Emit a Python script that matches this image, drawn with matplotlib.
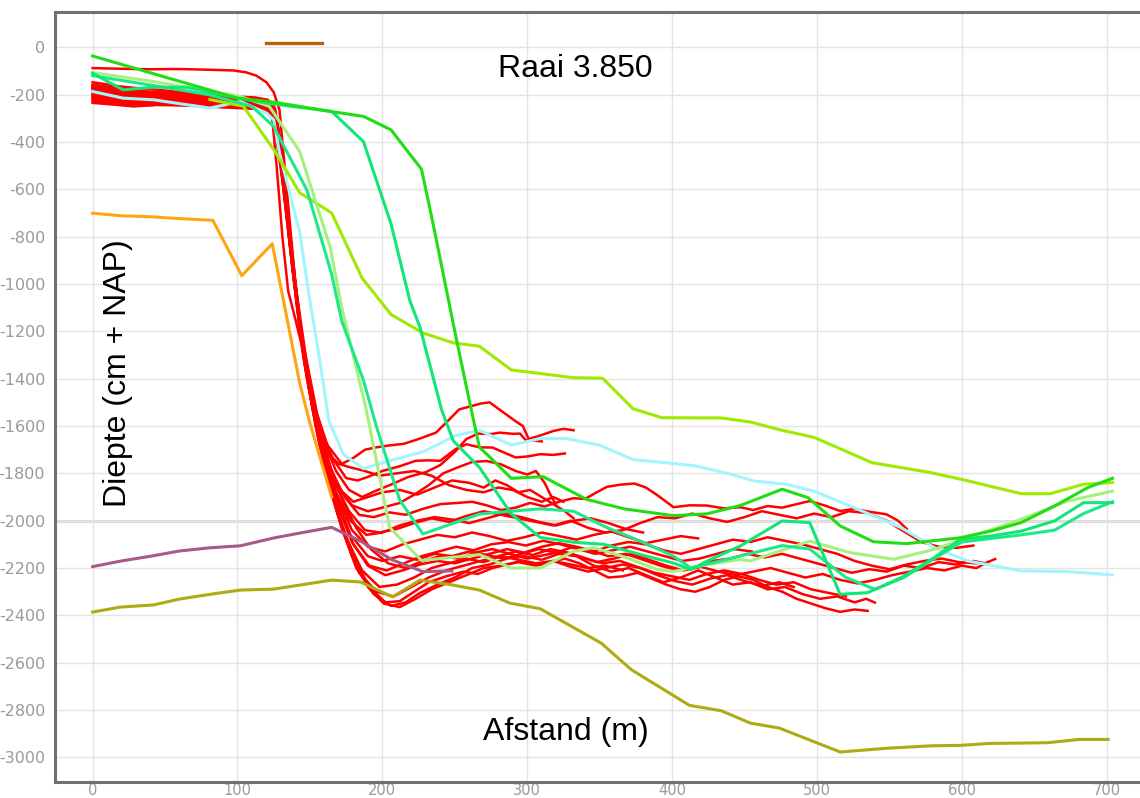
import matplotlib
matplotlib.use("Agg")
import matplotlib.pyplot as plt

# Raai 3.850 - dieptemetingen langs de raai
plt.rcParams['axes.unicode_minus'] = False

# oude lodingen (rood), per profiel (afstand m, diepte cm)
red_profiles = [
    [(0,-88),(20,-91),(40,-93),(60,-92),(80,-95),(97,-98),(106,-106),(113,-120),(120,-148),(125,-190),(129,-265),(134,-600),(140,-1000),(147,-1300),(155,-1550),(162,-1680),(172,-1760),(180,-1735),(188,-1700),(196,-1690),(205,-1682),(215,-1675),(225,-1655),(237,-1628),(245,-1580),(253,-1530),(262,-1515),(268,-1505),(274,-1500),(283,-1540),(292,-1580),(297,-1600),(301,-1655),(309,-1640),(318,-1621),(325,-1612),(332,-1618)],
    [(0,-148),(8,-155),(18,-165),(30,-172),(45,-180),(62,-190),(80,-200),(98,-208),(112,-212),(121,-222),(126,-260),(131,-480),(137,-850),(144,-1200),(151,-1460),(158,-1620),(166,-1740),(175,-1820),(183,-1830),(190,-1815),(200,-1790),(212,-1770),(223,-1747),(232,-1745),(240,-1747),(250,-1700),(258,-1677),(267,-1690),(276,-1691),(284,-1712),(292,-1733),(301,-1728),(309,-1719),(318,-1722),(326,-1716)],
    [(0,-158),(12,-168),(25,-182),(40,-188),(58,-196),(78,-203),(98,-212),(113,-222),(122,-235),(127,-300),(133,-620),(139,-980),(146,-1290),(153,-1520),(160,-1670),(168,-1790),(177,-1870),(186,-1900),(195,-1875),(205,-1850),(218,-1815),(230,-1795),(240,-1765),(250,-1710),(258,-1655),(266,-1632),(275,-1634),(281,-1628),(290,-1633),(295,-1632),(299,-1660),(305,-1662),(310,-1665)],
    [(0,-165),(14,-178),(28,-192),(44,-198),(64,-204),(84,-214),(104,-224),(117,-232),(124,-250),(129,-380),(135,-720),(141,-1080),(148,-1380),(155,-1600),(162,-1750),(170,-1860),(179,-1935),(190,-1960),(200,-1945),(212,-1925),(222,-1890),(232,-1850),(242,-1800),(252,-1775),(262,-1752),(272,-1748),(282,-1762),(292,-1790),(300,-1805),(306,-1790),(312,-1840),(316,-1890),(320,-1935)],
    [(0,-172),(10,-180),(22,-195),(36,-200),(52,-206),(72,-212),(92,-220),(108,-228),(119,-238),(125,-262),(130,-420),(136,-780),(143,-1150),(150,-1430),(157,-1640),(165,-1790),(174,-1900),(184,-1975),(194,-1985),(205,-1965),(216,-1975),(228,-1950),(240,-1930),(252,-1925),(262,-1920),(272,-1935),(282,-1955),(292,-1945),(302,-1925),(312,-1940),(322,-1920),(332,-1905),(340,-1908),(348,-1880),(355,-1857),(364,-1848),(374,-1843),(382,-1860),(390,-1893),(401,-1943),(412,-1935),(424,-1936),(436,-1948),(447,-1943),(456,-1955),(466,-1938),(476,-1945),(486,-1930),(495,-1917),(505,-1935),(516,-1959),(526,-1950),(536,-1962),(548,-1973),(556,-2000),(562,-2035)],
    [(0,-178),(15,-188),(30,-200),(48,-205),(68,-210),(88,-222),(106,-230),(118,-240),(125,-270),(130,-460),(136,-820),(143,-1180),(150,-1460),(158,-1680),(167,-1840),(177,-1960),(188,-2040),(198,-2050),(210,-2035),(222,-2010),(234,-1990),(246,-2005),(258,-1980),(270,-1960),(282,-1975),(294,-1990),(306,-2005),(318,-2020),(330,-2000),(342,-2030),(354,-2050),(366,-2040),(378,-2010),(390,-1985),(402,-1990),(414,-1970),(426,-1990),(438,-2005),(450,-1985),(462,-1960),(474,-1975),(486,-1990),(498,-1970),(510,-1985),(522,-1960),(535,-1968),(548,-2000),(560,-2045),(572,-2090),(584,-2110),(596,-2115),(608,-2105)],
    [(0,-185),(12,-195),(26,-210),(40,-222),(55,-218),(75,-222),(95,-230),(110,-238),(120,-248),(126,-290),(131,-520),(137,-880),(144,-1230),(151,-1500),(159,-1720),(168,-1900),(178,-2060),(190,-2150),(200,-2170),(212,-2150),(224,-2165),(236,-2140),(248,-2150),(260,-2130),(272,-2145),(284,-2160),(296,-2140),(308,-2120),(320,-2135),(332,-2110),(344,-2125),(356,-2150),(368,-2140),(380,-2165),(392,-2190),(404,-2210),(416,-2195),(428,-2170),(440,-2160),(452,-2140),(464,-2155),(476,-2140),(488,-2160),(500,-2180),(512,-2200),(524,-2220),(536,-2205),(548,-2215),(560,-2190),(572,-2200),(584,-2175),(596,-2185),(608,-2170),(616,-2180),(623,-2162)],
    [(0,-192),(14,-205),(28,-225),(38,-238),(50,-232),(68,-228),(88,-236),(106,-244),(118,-250),(125,-280),(131,-560),(138,-940),(145,-1290),(153,-1560),(161,-1780),(170,-1980),(180,-2150),(191,-2280),(202,-2345),(212,-2340),(222,-2300),(232,-2260),(244,-2235),(256,-2215),(266,-2225),(276,-2200),(286,-2185),(296,-2170),(306,-2190),(316,-2175),(326,-2160),(336,-2180),(346,-2210),(356,-2240),(366,-2235),(376,-2220),(386,-2245),(396,-2270),(406,-2290),(416,-2300),(426,-2280),(436,-2250),(446,-2235),(456,-2250),(466,-2280),(476,-2300),(486,-2330),(496,-2350),(506,-2370),(516,-2385),(526,-2375),(535,-2381)],
    [(0,-198),(10,-210),(24,-222),(38,-232),(52,-228),(72,-232),(92,-240),(108,-246),(119,-252),(126,-300),(132,-600),(139,-990),(146,-1330),(154,-1600),(162,-1820),(172,-2030),(182,-2200),(194,-2310),(206,-2360),(216,-2345),(226,-2305),(238,-2270),(250,-2240),(262,-2200),(274,-2185),(286,-2160),(298,-2150),(310,-2165),(322,-2140),(334,-2150),(346,-2190),(358,-2215),(370,-2200),(382,-2230),(394,-2260),(406,-2240),(418,-2210),(430,-2240),(442,-2270),(454,-2260),(466,-2290),(478,-2280),(490,-2310),(502,-2330),(514,-2320),(526,-2345),(534,-2330),(540,-2346)],
    [(0,-205),(12,-215),(26,-232),(40,-240),(56,-236),(76,-238),(96,-244),(110,-250),(120,-255),(127,-320),(133,-640),(140,-1020),(147,-1360),(155,-1630),(163,-1850),(173,-2050),(184,-2220),(196,-2300),(208,-2320),(220,-2280),(232,-2240),(244,-2210),(256,-2190),(268,-2170),(280,-2150),(292,-2130),(304,-2145),(316,-2120),(328,-2135),(340,-2160),(352,-2180),(364,-2170),(376,-2195),(388,-2220),(400,-2235),(412,-2250),(424,-2225),(436,-2210),(448,-2225),(460,-2250),(472,-2270),(484,-2260),(496,-2290),(508,-2305),(520,-2320)],
    [(0,-210),(14,-222),(28,-236),(42,-242),(60,-238),(80,-242),(100,-248),(112,-252),(122,-258),(128,-340),(134,-680),(141,-1060),(148,-1400),(156,-1660),(165,-1880),(175,-2070),(186,-2210),(198,-2280),(210,-2270),(222,-2240),(234,-2200),(246,-2180),(258,-2160),(270,-2175),(282,-2150),(294,-2165),(306,-2180),(318,-2170),(330,-2195),(342,-2215),(354,-2200),(366,-2185),(378,-2200),(390,-2230),(402,-2255),(414,-2270),(426,-2245),(438,-2230),(450,-2255),(462,-2275),(474,-2260),(484,-2280)],
    [(0,-215),(12,-228),(24,-242),(36,-246),(50,-240),(70,-244),(90,-250),(106,-256),(118,-262),(125,-300),(131,-560),(138,-920),(145,-1270),(153,-1540),(161,-1760),(170,-1950),(180,-2100),(191,-2190),(203,-2210),(215,-2180),(227,-2150),(239,-2130),(251,-2110),(263,-2125),(275,-2100),(287,-2090),(299,-2105),(311,-2085),(323,-2100),(335,-2120),(347,-2140),(359,-2125),(371,-2110),(383,-2130),(395,-2150),(407,-2170),(419,-2160),(431,-2140),(443,-2120),(455,-2130)],
    [(0,-220),(15,-232),(30,-244),(45,-238),(65,-240),(85,-246),(103,-252),(116,-258),(124,-275),(130,-480),(137,-850),(144,-1210),(152,-1490),(160,-1710),(169,-1900),(179,-2040),(190,-2110),(202,-2130),(214,-2100),(226,-2080),(238,-2060),(250,-2070),(262,-2050),(274,-2065),(286,-2085),(298,-2070),(310,-2050),(322,-2065),(334,-2080),(346,-2060),(358,-2045),(370,-2070),(382,-2095),(394,-2080),(406,-2065),(418,-2075)],
    [(0,-228),(12,-238),(26,-246),(42,-240),(60,-244),(80,-250),(100,-255),(114,-258),(123,-265),(129,-420),(136,-800),(143,-1170),(151,-1470),(159,-1700),(168,-1880),(178,-2000),(189,-2060),(200,-2050),(212,-2020),(224,-2000),(236,-1985),(248,-1995),(260,-2010),(272,-1990),(284,-1970),(296,-1985),(308,-2005),(320,-2020),(332,-2000),(344,-1990),(356,-2010),(368,-2035),(380,-2050)],
    [(0,-160),(15,-172),(30,-186),(48,-192),(68,-198),(88,-208),(106,-218),(118,-228),(125,-245),(130,-400),(136,-760),(142,-1120),(149,-1400),(156,-1610),(163,-1760),(171,-1870),(180,-1920),(190,-1900),(200,-1880),(212,-1870),(224,-1890),(236,-1860),(248,-1830),(260,-1840),(270,-1860),(278,-1830),(286,-1850),(294,-1880),(302,-1870),(310,-1900),(318,-1930),(326,-1960),(332,-1990)],
    [(0,-235),(14,-242),(28,-250),(44,-244),(64,-246),(84,-252),(104,-258),(116,-260),(124,-270),(130,-500),(137,-880),(144,-1240),(152,-1530),(160,-1760),(169,-1970),(179,-2150),(190,-2280),(201,-2350),(212,-2365),(223,-2330),(234,-2290),(246,-2260),(258,-2230),(270,-2200),(282,-2190),(294,-2175),(306,-2190),(318,-2170),(330,-2185),(342,-2200),(354,-2190),(366,-2210)],
    [(0,-182),(14,-192),(28,-206),(42,-212),(60,-210),(80,-216),(100,-224),(114,-230),(121,-240),(124,-300),(127,-500),(131,-800),(135,-1030),(140,-1150),(146,-1300),(152,-1480),(158,-1640),(165,-1790),(173,-1920),(182,-2030),(192,-2120),(204,-2180),(216,-2200),(228,-2170),(240,-2150),(252,-2160),(264,-2135),(276,-2120),(288,-2140),(300,-2160),(312,-2145),(324,-2130),(336,-2150),(348,-2175),(360,-2160),(372,-2140),(384,-2165),(396,-2190),(408,-2210),(420,-2195),(432,-2215),(444,-2230),(456,-2215),(468,-2200),(480,-2220),(492,-2240),(504,-2225),(516,-2250),(528,-2265),(540,-2250),(552,-2230),(564,-2215),(576,-2200),(588,-2210),(600,-2190),(610,-2200),(618,-2175)],
    [(0,-190),(12,-200),(24,-214),(38,-226),(54,-222),(74,-226),(94,-234),(109,-240),(119,-246),(126,-285),(132,-540),(138,-900),(145,-1260),(152,-1520),(160,-1740),(169,-1930),(179,-2090),(190,-2190),(202,-2230),(214,-2210),(226,-2185),(238,-2170),(250,-2180),(262,-2160),(274,-2140),(286,-2120),(298,-2135),(310,-2110),(322,-2095),(334,-2110),(346,-2130),(358,-2105),(370,-2090),(382,-2100),(394,-2125),(406,-2140),(418,-2120),(430,-2100),(442,-2080),(454,-2090),(466,-2070),(478,-2085),(490,-2100),(502,-2120),(514,-2140),(526,-2170),(538,-2190),(550,-2205),(562,-2185),(574,-2170),(586,-2160),(598,-2175),(610,-2180)],
    [(0,-168),(12,-176),(26,-190),(40,-196),(60,-200),(80,-210),(100,-220),(114,-228),(122,-240),(128,-340),(134,-700),(141,-1070),(148,-1370),(155,-1590),(163,-1720),(170,-1760),(178,-1775),(188,-1790),(198,-1810),(210,-1800),(222,-1790),(234,-1810),(246,-1850),(258,-1870),(270,-1880),(280,-1860),(290,-1870),(300,-1900),(310,-1920),(318,-1900),(325,-1920)],
]

# overige metingen
cyan_x = [0, 21, 42, 62, 81, 102, 120, 125, 129, 143, 150, 157, 163, 173, 187, 200, 228, 251, 267, 289, 309, 327, 350, 373, 397, 416, 439, 457, 479, 498, 523, 558, 581, 604, 641, 673, 704]
cyan_y = [-187, -215, -222, -240, -257, -229, -278, -307, -446, -784, -1071, -1330, -1576, -1719, -1780, -1755, -1709, -1640, -1618, -1681, -1653, -1653, -1681, -1742, -1756, -1768, -1801, -1833, -1846, -1875, -1938, -2029, -2114, -2170, -2212, -2215, -2229]

green_x = [0, 100, 125, 164, 187, 206, 227, 235, 250, 260, 267, 274, 289, 311, 341, 367, 401, 424, 447, 476, 494, 516, 539, 562, 599, 620, 641, 664, 687, 704]
green_y = [-37, -215, -232, -271, -292, -349, -515, -745, -1200, -1492, -1690, -1730, -1821, -1814, -1910, -1950, -1979, -1971, -1936, -1867, -1903, -2022, -2089, -2097, -2072, -2044, -2008, -1938, -1860, -1821]

teal1_x = [0, 21, 42, 65, 100, 125, 165, 187, 206, 219, 226, 241, 249, 267, 289, 309, 332, 353, 378, 401, 413, 424, 447, 476, 495, 516, 535, 558, 581, 599, 620, 641, 664, 684, 704]
teal1_y = [-110, -180, -169, -169, -215, -240, -271, -399, -746, -1071, -1183, -1534, -1663, -1775, -1971, -2071, -2091, -2100, -2143, -2179, -2207, -2171, -2107, -2001, -2008, -2311, -2304, -2241, -2156, -2079, -2065, -2044, -2001, -1924, -1924]

teal2_x = [0, 40, 80, 110, 125, 148, 165, 172, 187, 196, 212, 228, 267, 289, 309, 332, 355, 378, 401, 413, 440, 476, 495, 520, 540, 560, 581, 600, 620, 641, 664, 684, 704]
teal2_y = [-120, -160, -200, -250, -335, -604, -959, -1157, -1408, -1604, -1913, -2056, -1972, -1960, -1950, -1960, -2029, -2086, -2150, -2200, -2160, -2105, -2120, -2240, -2290, -2240, -2160, -2090, -2075, -2060, -2040, -1970, -1920]

pale_x = [0, 42, 102, 122, 143, 164, 172, 189, 205, 227, 267, 289, 309, 332, 346, 369, 390, 401, 424, 447, 454, 495, 523, 553, 581, 604, 638, 673, 704]
pale_y = [-107, -145, -208, -250, -441, -845, -1100, -1534, -2028, -2168, -2143, -2200, -2200, -2129, -2114, -2157, -2207, -2214, -2186, -2164, -2170, -2086, -2135, -2163, -2121, -2072, -2001, -1917, -1875]

lime_x = [81, 104, 125, 143, 165, 186, 206, 228, 249, 267, 289, 332, 352, 373, 393, 434, 454, 475, 498, 538, 577, 601, 641, 661, 684, 704]
lime_y = [-221, -249, -432, -615, -700, -975, -1129, -1207, -1249, -1263, -1363, -1396, -1398, -1527, -1565, -1566, -1583, -1617, -1648, -1755, -1795, -1827, -1886, -1886, -1846, -1839]

orange_x = [0, 20, 40, 60, 83, 103, 124, 143, 150, 165]
orange_y = [-701, -712, -716, -724, -731, -965, -830, -1420, -1588, -1900]

purple_x = [0, 20, 40, 60, 80, 102, 125, 145, 165, 186, 207, 228, 248]
purple_y = [-2194, -2170, -2150, -2128, -2115, -2106, -2073, -2050, -2028, -2090, -2166, -2215, -2212]

olive_x = [0, 19, 42, 60, 80, 102, 125, 145, 165, 185, 207, 226, 247, 267, 288, 309, 351, 372, 412, 434, 454, 474, 516, 549, 579, 599, 619, 659, 681, 701]
olive_y = [-2386, -2365, -2356, -2331, -2312, -2293, -2289, -2270, -2251, -2259, -2322, -2251, -2270, -2293, -2348, -2372, -2517, -2630, -2780, -2803, -2855, -2876, -2977, -2961, -2951, -2949, -2941, -2938, -2924, -2924]

brown_x = [120, 158]
brown_y = [17, 17]

fig = plt.figure(figsize=(11.4, 7.98), dpi=100)
ax = fig.add_axes([0.0482, 0.02, 0.9518, 0.965])

for prof in red_profiles:
    xs = [p[0] for p in prof]
    ys = [p[1] for p in prof]
    ax.plot(xs, ys, color='#ff0000', lw=1.8, zorder=2, solid_joinstyle='round')

ax.plot(olive_x, olive_y, color='#afab12', lw=2.2, zorder=3)
ax.plot(purple_x, purple_y, color='#a65a88', lw=2.2, zorder=3)
ax.plot(orange_x, orange_y, color='#ffa514', lw=2.2, zorder=3)
ax.plot(brown_x, brown_y, color='#b8600e', lw=2.4, zorder=3)
ax.plot(cyan_x, cyan_y, color='#a2f5fc', lw=2.2, zorder=3)
ax.plot(lime_x, lime_y, color='#9eea00', lw=2.2, zorder=3)
ax.plot(pale_x, pale_y, color='#a6f07e', lw=2.2, zorder=3)
ax.plot(teal2_x, teal2_y, color='#1ee88a', lw=2.2, zorder=3)
ax.plot(teal1_x, teal1_y, color='#12e676', lw=2.2, zorder=3)
ax.plot(green_x, green_y, color='#22dc14', lw=2.2, zorder=3)

ax.set_xlim(-26, 723)
ax.set_ylim(-3104, 149)
ax.set_xticks(range(0, 701, 100))
ax.set_yticks(range(-3000, 1, 200))
ax.grid(True, color='#e4e4e4', lw=1.0, zorder=0)
ax.axhline(-2000, color='#cfcfcf', lw=1.8, zorder=0.5)
ax.set_axisbelow(True)

for side in ['left', 'bottom', 'top']:
    ax.spines[side].set_color('#707070')
    ax.spines[side].set_linewidth(2.2)
ax.spines['right'].set_visible(False)

ax.tick_params(axis='y', length=0, pad=7, labelsize=11.5, labelcolor='#9a9a9a')
ax.tick_params(axis='x', length=0, pad=1.0, labelsize=10.5, labelcolor='#9a9a9a')
for lab in ax.get_xticklabels() + ax.get_yticklabels():
    lab.set_family(['Liberation Sans Narrow', 'DejaVu Sans'])

txtfont = ['Liberation Sans', 'DejaVu Sans']
ax.text(333, -90, 'Raai 3.850', fontsize=23, family=txtfont, ha='center', va='center')
ax.text(327, -2894, 'Afstand (m)', fontsize=23, family=txtfont, ha='center', va='center')
ax.text(17.5, -1375, 'Diepte (cm + NAP)', fontsize=23, family=txtfont, ha='center', va='center', rotation=90)

fig.savefig('out.png', dpi=100)
